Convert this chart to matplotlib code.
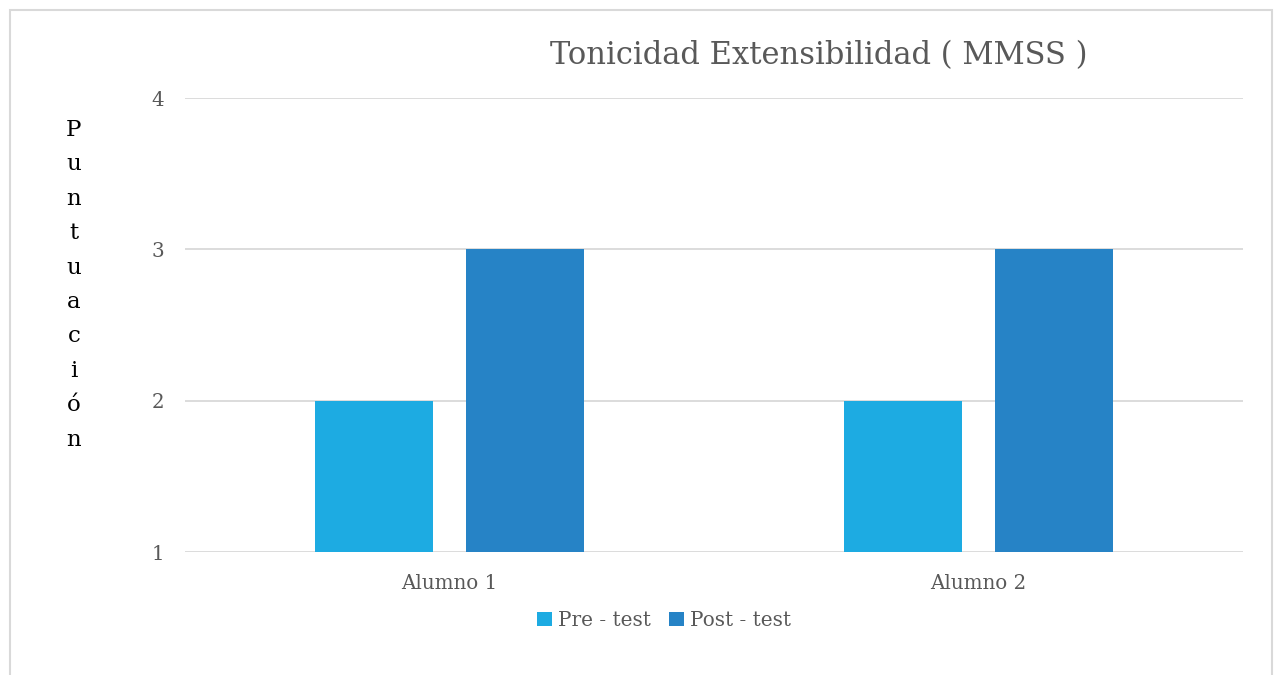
import numpy as np
import matplotlib.pyplot as plt
from matplotlib.patches import Rectangle

categories = ['Alumno 1', 'Alumno 2']
pre_test = [2, 2]
post_test = [3, 3]
series_names = ['Pre - test', 'Post - test']
y_ticks = [1, 2, 3, 4]


def main():
    plt.rcParams['font.family'] = ['DejaVu Serif']
    fig = plt.figure(figsize=(12.74, 6.75), dpi=100)
    ax = fig.add_axes([0.1452, 0.1822, 0.8305, 0.6726])

    x = np.arange(len(categories))
    w = 0.223
    ax.bar(x - 0.1427, pre_test, w, color='#1DABE2', label=series_names[0], zorder=3)
    ax.bar(x + 0.1427, post_test, w, color='#2683C6', label=series_names[1], zorder=3)

    ax.set_xlim(-0.5, 1.5)
    ax.set_ylim(1, 4)
    ax.set_yticks(y_ticks)
    ax.set_xticks(x)
    ax.set_xticklabels(categories)
    ax.tick_params(axis='both', length=0, labelsize=14.3, colors='#595959')
    ax.tick_params(axis='y', pad=15)
    ax.tick_params(axis='x', pad=16)
    ax.grid(axis='y', color='#D9D9D9', linewidth=1.3, zorder=0)
    for s in ax.spines.values():
        s.set_visible(False)

    fig.text(0.643, 0.918, 'Tonicidad Extensibilidad ( MMSS )', ha='center', va='center',
             fontsize=22, color='#595959')
    fig.text(0.058, 0.578, '\n'.join('Puntuación'), ha='center', va='center',
             fontsize=16.5, color='black', linespacing=1.73)

    leg = fig.legend(loc='center', bbox_to_anchor=(0.521, 0.081), ncol=2, frameon=False,
                     fontsize=14.4, handlelength=0.75, handleheight=0.75, handletextpad=0.3,
                     columnspacing=0.9)
    for t in leg.get_texts():
        t.set_color('#595959')

    fig.patches.append(Rectangle((10 / 1274, -0.05), 1262 / 1274, 1 - 10 / 675 + 0.05,
                                 transform=fig.transFigure, fill=False,
                                 edgecolor='#D9D9D9', linewidth=1.5))

    fig.savefig('out.png', dpi=100)


if __name__ == '__main__':
    main()
